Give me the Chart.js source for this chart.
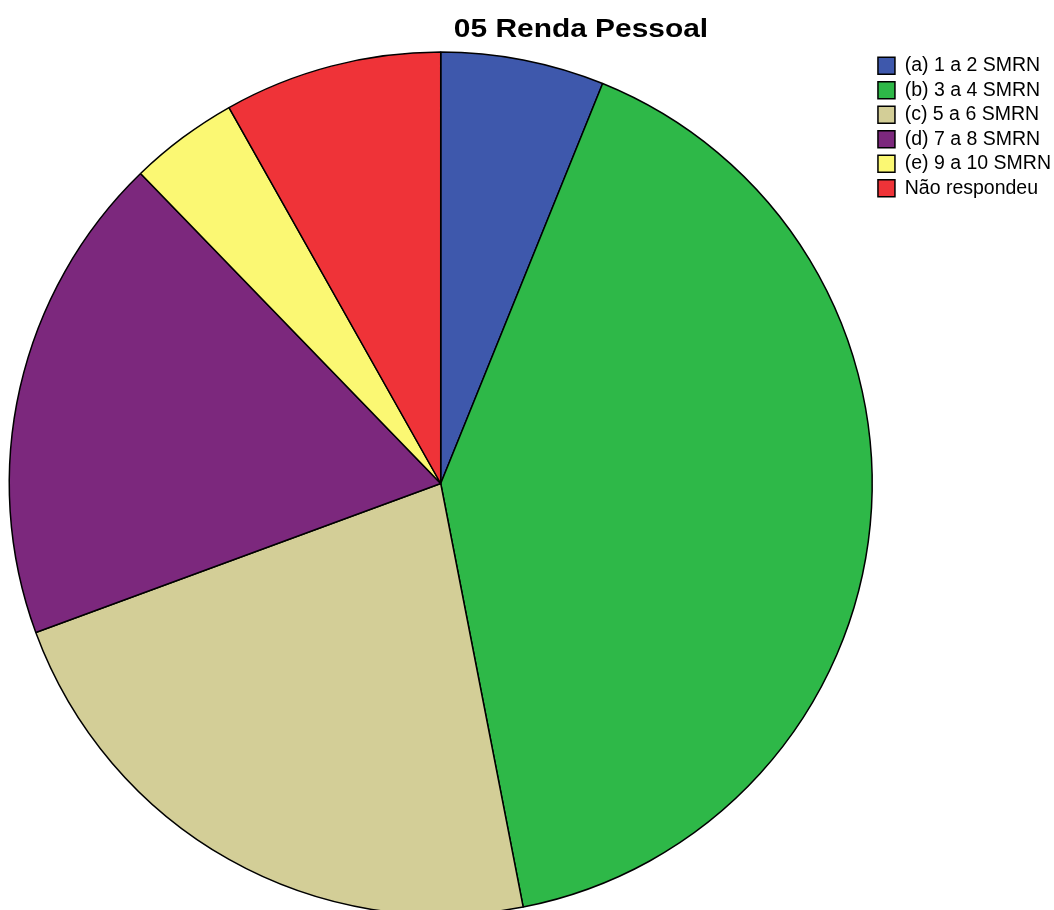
<!DOCTYPE html>
<html lang="pt">
<head>
<meta charset="UTF-8">
<title>05 Renda Pessoal</title>
<style>
    html, body {
        margin: 0;
        padding: 0;
        background: #fff;
        overflow: hidden;
    }
    .frame {
        width: 1054px;
        height: 910px;
        overflow: hidden;
    }
    canvas {
        display: block;
    }
</style>
</head>
<body>
<div class="frame">
    <canvas id="rendaChart" width="1061" height="916"></canvas>
</div>

<script src="https://cdn.jsdelivr.net/npm/chart.js"></script>
<script>
    // Dados (n = 49)
    const chartTitle = "05 Renda Pessoal";
    const categories = [
        "(a) 1 a 2 SMRN",
        "(b) 3 a 4 SMRN",
        "(c) 5 a 6 SMRN",
        "(d) 7 a 8 SMRN",
        "(e) 9 a 10 SMRN",
        "Não respondeu"
    ];
    const counts = [3, 20, 11, 9, 2, 4];
    const sliceColors = ["#3E58AC", "#2EB848", "#D3CE97", "#7C287D", "#FBF873", "#EF3338"];

    const fontFamily = "'Liberation Sans', Arial, sans-serif";

    // Título desenhado à parte (fica deslocado à direita, como no original)
    const titlePlugin = {
        id: "tituloRenda",
        afterDraw(chart) {
            const ctx = chart.ctx;
            ctx.save();
            ctx.font = "bold 26px " + fontFamily;
            ctx.fillStyle = "#000";
            ctx.textAlign = "center";
            ctx.textBaseline = "alphabetic";
            ctx.translate(581, 37);
            ctx.scale(1.15, 1);
            ctx.fillText(chartTitle, 0, 0);
            ctx.restore();
        }
    };

    const ctx = document.getElementById("rendaChart").getContext("2d");
    new Chart(ctx, {
        type: "pie",
        data: {
            labels: categories,
            datasets: [{
                data: counts,
                backgroundColor: sliceColors,
                borderColor: "#000",
                borderWidth: 1.5
            }]
        },
        options: {
            responsive: false,
            animation: false,
            events: [],
            layout: {
                padding: { top: 51, left: 8.5, right: 0, bottom: 0 }
            },
            plugins: {
                title: { display: false },
                tooltip: { enabled: false },
                legend: {
                    display: true,
                    position: "right",
                    align: "start",
                    labels: {
                        color: "#000",
                        boxWidth: 17,
                        boxHeight: 17,
                        padding: 5,
                        font: { family: fontFamily, size: 19.5 }
                    }
                }
            }
        },
        plugins: [titlePlugin]
    });
</script>
</body>
</html>
